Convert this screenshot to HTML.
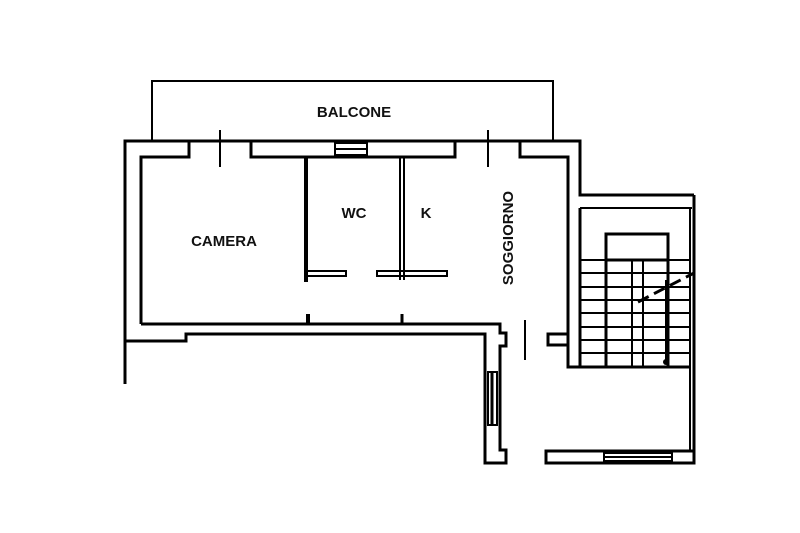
<!DOCTYPE html>
<html><head><style>html,body{margin:0;padding:0;background:#fff;width:800px;height:533px;overflow:hidden}
text{font-family:"Liberation Sans",sans-serif;font-weight:bold;font-size:15px;fill:#111}</style></head>
<body>
<svg width="800" height="533" viewBox="0 0 800 533" xmlns="http://www.w3.org/2000/svg">
<g fill="none" stroke="#000" stroke-width="3" stroke-linejoin="miter">
<polyline points="152,141 152,81 553,81 553,141" stroke-width="2"/>
<polyline points="125,384 125,141 580,141 580,195 694,195"/>
<polyline points="141,324 141,157 189,157 189,141"/>
<polyline points="251,141 251,157 455,157 455,141"/>
<polyline points="520,141 520,157 568,157 568,345 548,345 548,334 568,334"/>
<line x1="220" y1="130" x2="220" y2="167" stroke-width="2"/>
<line x1="488" y1="130" x2="488" y2="167" stroke-width="2"/>
<rect x="335" y="143" width="32" height="12" stroke-width="2"/>
<line x1="335" y1="149" x2="367" y2="149" stroke-width="2"/>
<polyline points="141,324 500,324 500,333 506,333 506,346 500,346 500,450 506,450 506,463 485,463 485,334 186,334 186,341 125,341"/>
<rect x="488" y="372" width="9" height="53" stroke-width="2"/>
<line x1="492" y1="372" x2="492" y2="425" stroke-width="3"/>
<line x1="308" y1="314" x2="308" y2="324" stroke-width="4"/>
<line x1="402" y1="314" x2="402" y2="324" stroke-width="3"/>
<line x1="525" y1="320" x2="525" y2="360" stroke-width="2"/>
<line x1="306" y1="157" x2="306" y2="282" stroke-width="4"/>
<rect x="307" y="271" width="39" height="5" stroke-width="2"/>
<line x1="400" y1="157" x2="400" y2="280" stroke-width="2"/>
<line x1="404" y1="157" x2="404" y2="280" stroke-width="2"/>
<rect x="377" y="271" width="70" height="5" stroke-width="2"/>
<polyline points="568,345 568,367 690,367"/>
<polyline points="580,208 580,367"/>
<line x1="580" y1="208" x2="692" y2="208" stroke-width="2"/>
<line x1="694" y1="195" x2="694" y2="463"/>
<line x1="690" y1="208" x2="690" y2="452" stroke-width="2"/>
<rect x="606" y="234" width="62" height="26"/>
<line x1="580" y1="260" x2="690" y2="260" stroke-width="2"/>
<line x1="606" y1="260" x2="606" y2="367"/>
<line x1="668" y1="260" x2="668" y2="367"/>
<rect x="632" y="260" width="11" height="107" stroke-width="2"/>
<g stroke-width="2">
<line x1="580" y1="273" x2="690" y2="273"/><line x1="580" y1="287" x2="690" y2="287"/>
<line x1="580" y1="300" x2="690" y2="300"/><line x1="580" y1="313" x2="690" y2="313"/>
<line x1="580" y1="327" x2="690" y2="327"/><line x1="580" y1="340" x2="690" y2="340"/>
<line x1="580" y1="353" x2="690" y2="353"/></g>
<line x1="638" y1="302" x2="694" y2="273" stroke-width="3" stroke-dasharray="12,6"/>
<line x1="666" y1="280" x2="666" y2="362" stroke-width="2"/>
<rect x="546" y="451" width="148" height="12"/>
<rect x="604" y="453" width="68" height="8" stroke-width="2"/>
<line x1="604" y1="457" x2="672" y2="457" stroke-width="2"/>
</g>
<circle cx="666" cy="362" r="3" fill="#000"/>
<text x="354" y="117" text-anchor="middle">BALCONE</text>
<text x="224" y="246" text-anchor="middle">CAMERA</text>
<text x="354" y="218" text-anchor="middle">WC</text>
<text x="426" y="218" text-anchor="middle">K</text>
<text transform="translate(513,238) rotate(-90)" text-anchor="middle">SOGGIORNO</text>
</svg>
</body></html>
